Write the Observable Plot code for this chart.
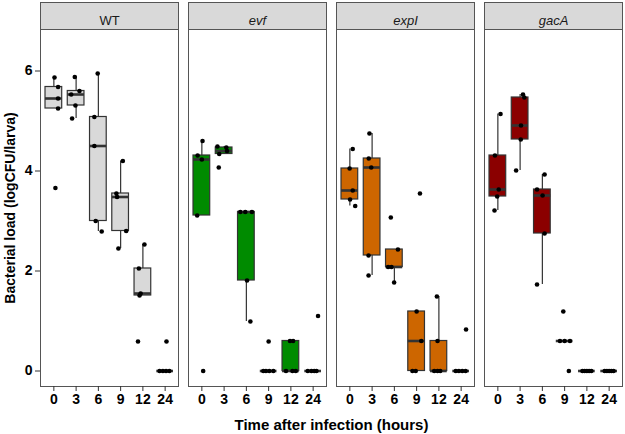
<!DOCTYPE html>
<html><head><meta charset="utf-8">
<script src="https://cdn.jsdelivr.net/npm/d3@7"></script>
<script src="https://cdn.jsdelivr.net/npm/@observablehq/plot@0.6"></script>
<style>body{margin:0;background:#fff}</style>
</head><body><div id="chart"></div>
<script>
const strains = ["WT", "evf", "expI", "gacA"];
const times = ["0", "3", "6", "9", "12", "24"];
const boxFills = ["#d9d9d9", "#008b00", "#cd6600", "#8b0000"];

// log CFU per larva, one list of larvae per time point
const wtValues = [
  [5.87, 5.68, 5.45, 5.25, 3.66],
  [5.88, 5.60, 5.53, 5.31, 5.05],
  [5.95, 5.08, 4.50, 3.00, 2.79],
  [4.20, 3.55, 3.48, 2.80, 2.45],
  [2.53, 2.05, 1.55, 1.51, 0.59],
  [0.59, 0, 0, 0, 0]
];
const evfValues = [
  [4.60, 4.31, 4.23, 3.11, 0],
  [4.49, 4.47, 4.40, 4.34, 4.07],
  [3.18, 3.18, 3.18, 1.81, 0.99],
  [0.59, 0, 0, 0, 0],
  [0.60, 0.60, 0, 0, 0],
  [1.10, 0, 0, 0, 0]
];
const expIValues = [
  [4.44, 4.05, 3.61, 3.43, 3.30],
  [4.75, 4.25, 4.07, 2.31, 1.91],
  [3.07, 2.43, 2.08, 2.08, 1.77],
  [3.55, 1.19, 0.60, 0, 0],
  [1.49, 0.60, 0, 0, 0],
  [0.83, 0, 0, 0, 0]
];
const gacAValues = [
  [5.14, 4.31, 3.63, 3.49, 3.21],
  [5.53, 5.47, 4.91, 4.63, 4.01],
  [3.93, 3.63, 3.51, 2.75, 1.73],
  [1.19, 0.60, 0.60, 0.60, 0],
  [0, 0, 0, 0, 0],
  [0, 0, 0, 0, 0]
];
// horizontal jitter of each point (fraction of a category step)
const wtJitter = [
  [0.03, 0.19, 0.19, 0.19, 0.07],
  [-0.06, 0.15, -0.22, -0.03, -0.18],
  [-0.03, -0.18, -0.18, -0.12, 0.15],
  [0.10, -0.19, -0.16, 0.25, -0.10],
  [0.07, -0.18, -0.10, -0.15, -0.22],
  [0.06, -0.25, -0.10, 0.04, 0.19]
];
const evfJitter = [
  [0.03, -0.19, 0, -0.21, 0.06],
  [-0.30, 0.10, 0.13, -0.22, -0.24],
  [-0.27, -0.05, 0.25, 0.03, 0.18],
  [0, -0.24, -0.12, 0.03, 0.21],
  [-0.04, 0.10, -0.22, 0.07, 0.22],
  [0.22, -0.24, -0.08, 0.05, 0.15]
];
const expIJitter = [
  [0.13, -0.01, 0.13, 0.01, 0.24],
  [-0.12, -0.15, -0.04, -0.16, -0.16],
  [-0.16, 0.16, -0.28, -0.13, -0.01],
  [0.15, 0, 0.21, -0.19, -0.04],
  [-0.09, -0.06, -0.21, -0.06, 0.06],
  [0.22, -0.24, -0.10, 0.05, 0.20]
];
const gacAJitter = [
  [0.12, -0.13, 0.04, -0.03, -0.15],
  [0.13, 0.19, 0.04, 0.03, -0.18],
  [0.10, -0.24, 0.01, 0.10, -0.24],
  [-0.06, -0.21, 0, 0.24, 0.19],
  [-0.20, -0.10, 0, 0.10, 0.20],
  [-0.20, -0.10, 0, 0.10, 0.20]
];

const allValues = [wtValues, evfValues, expIValues, gacAValues];
const allJitter = [wtJitter, evfJitter, expIJitter, gacAJitter];

const points = [];
const stats = [];
strains.forEach((s, si) => {
  allValues[si].forEach((vals, ti) => {
    vals.forEach((v, k) => points.push({strain: s, i: ti, v, j: allJitter[si][ti][k]}));
    const sorted = vals.slice().sort(d3.ascending);
    const q1 = d3.quantileSorted(sorted, 0.25);
    const med = d3.quantileSorted(sorted, 0.5);
    const q3 = d3.quantileSorted(sorted, 0.75);
    const iqr = q3 - q1;
    const lo = d3.min(sorted.filter(d => d >= q1 - 1.5 * iqr));
    const hi = d3.max(sorted.filter(d => d <= q3 + 1.5 * iqr));
    stats.push({strain: s, i: ti, q1, med, q3, lo, hi, fill: boxFills[si]});
  });
});

const W = 625, H = 434, mTop = 29, mBottom = 48;
const half = 0.375;
const plot = Plot.plot({
  width: W,
  height: H,
  marginLeft: 39,
  marginRight: 2,
  marginTop: mTop,
  marginBottom: mBottom,
  style: {fontFamily: "'Liberation Sans', Arial, sans-serif", fontSize: "13px", background: "#fff", color: "black"},
  fx: {domain: strains, paddingInner: 0.067, paddingOuter: 0},
  x: {type: "linear", domain: [-0.6, 5.6]},
  y: {domain: [-0.31, 6.83]},
  marks: [
    Plot.frame({fill: "white", stroke: "#555", strokeWidth: 1}),
    Plot.frame({fill: "#d9d9d9", stroke: "#555", strokeWidth: 1, insetTop: -27, insetBottom: H - mTop - mBottom}),
    Plot.text(strains.filter(s => s === "WT"), {fx: d => d, text: d => d, frameAnchor: "top", dy: -14, fontSize: 13, fill: "#1a1a1a"}),
    Plot.text(strains.filter(s => s !== "WT"), {fx: d => d, text: d => d, frameAnchor: "top", dy: -14, fontSize: 13, fontStyle: "italic", fill: "#1a1a1a"}),
    Plot.axisY({ticks: [0, 2, 4, 6], tickSize: 5, tickPadding: 3, fontSize: 14, fontWeight: "bold", stroke: "#333", fill: "black",
      label: "Bacterial load (logCFU/larva)", labelAnchor: "center", labelArrow: "none", labelOffset: 35}),
    Plot.axisX({ticks: d3.range(times.length), tickFormat: i => times[i], tickSize: 5, tickPadding: 3, fontSize: 14, fontWeight: "bold", stroke: "#333", fill: "black", label: null}),
    Plot.axisFx({anchor: "bottom", tickSize: 0, tickFormat: () => "", label: "Time after infection (hours)", labelAnchor: "center", labelArrow: "none", labelOffset: 43, fontSize: 15, fontWeight: "bold", fill: "black"}),
    Plot.ruleX(stats, {fx: "strain", x: "i", y1: "lo", y2: "hi", stroke: "#333", strokeWidth: 1.2}),
    Plot.rect(stats, {fx: "strain", x1: d => d.i - half, x2: d => d.i + half, y1: "q1", y2: "q3", fill: "fill", stroke: "#333", strokeWidth: 1.2}),
    Plot.ruleY(stats, {fx: "strain", y: "med", x1: d => d.i - half, x2: d => d.i + half, stroke: "#333", strokeWidth: 2.6}),
    Plot.dot(points, {fx: "strain", x: d => d.i + d.j, y: "v", r: 2.3, fill: "black", stroke: "none"})
  ]
});
document.getElementById("chart").appendChild(plot);
</script></body></html>
